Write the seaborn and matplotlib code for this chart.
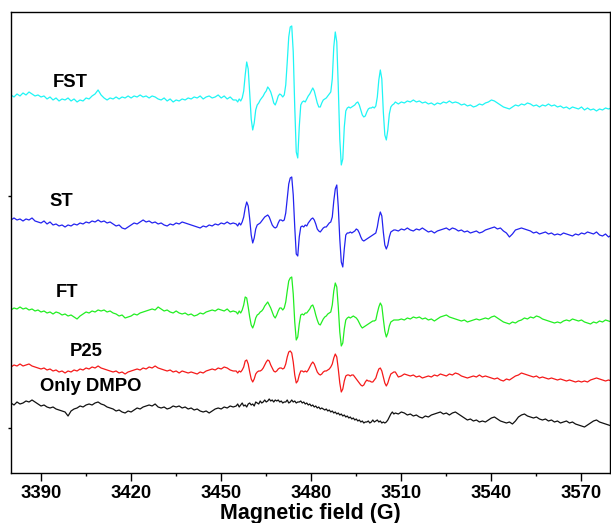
import matplotlib
matplotlib.use("Agg")
import matplotlib.pyplot as plt
import pandas as pd
import seaborn as sns

# Magnetic field sweep (G): 1 G steps away from the quartet, 0.5 G steps across it
field_low = [
    3380, 3381, 3382, 3383, 3384, 3385, 3386, 3387, 3388, 3389,
    3390, 3391, 3392, 3393, 3394, 3395, 3396, 3397, 3398, 3399,
    3400, 3401, 3402, 3403, 3404, 3405, 3406, 3407, 3408, 3409,
    3410, 3411, 3412, 3413, 3414, 3415, 3416, 3417, 3418, 3419,
    3420, 3421, 3422, 3423, 3424, 3425, 3426, 3427, 3428, 3429,
    3430, 3431, 3432, 3433, 3434, 3435, 3436, 3437, 3438, 3439,
    3440, 3441, 3442, 3443, 3444, 3445, 3446, 3447, 3448, 3449,
    3450, 3451, 3452, 3453, 3454,
]
field_mid = [
    3455.0, 3455.5, 3456.0, 3456.5, 3457.0, 3457.5, 3458.0, 3458.5, 3459.0, 3459.5,
    3460.0, 3460.5, 3461.0, 3461.5, 3462.0, 3462.5, 3463.0, 3463.5, 3464.0, 3464.5,
    3465.0, 3465.5, 3466.0, 3466.5, 3467.0, 3467.5, 3468.0, 3468.5, 3469.0, 3469.5,
    3470.0, 3470.5, 3471.0, 3471.5, 3472.0, 3472.5, 3473.0, 3473.5, 3474.0, 3474.5,
    3475.0, 3475.5, 3476.0, 3476.5, 3477.0, 3477.5, 3478.0, 3478.5, 3479.0, 3479.5,
    3480.0, 3480.5, 3481.0, 3481.5, 3482.0, 3482.5, 3483.0, 3483.5, 3484.0, 3484.5,
    3485.0, 3485.5, 3486.0, 3486.5, 3487.0, 3487.5, 3488.0, 3488.5, 3489.0, 3489.5,
    3490.0, 3490.5, 3491.0, 3491.5, 3492.0, 3492.5, 3493.0, 3493.5, 3494.0, 3494.5,
    3495.0, 3495.5, 3496.0, 3496.5, 3497.0, 3497.5, 3498.0, 3498.5, 3499.0, 3499.5,
    3500.0, 3500.5, 3501.0, 3501.5, 3502.0, 3502.5, 3503.0, 3503.5, 3504.0, 3504.5,
    3505.0, 3505.5, 3506.0, 3506.5, 3507.0, 3507.5, 3508.0,
]
field_high = [
    3509, 3510, 3511, 3512, 3513, 3514, 3515, 3516, 3517, 3518,
    3519, 3520, 3521, 3522, 3523, 3524, 3525, 3526, 3527, 3528,
    3529, 3530, 3531, 3532, 3533, 3534, 3535, 3536, 3537, 3538,
    3539, 3540, 3541, 3542, 3543, 3544, 3545, 3546, 3547, 3548,
    3549, 3550, 3551, 3552, 3553, 3554, 3555, 3556, 3557, 3558,
    3559, 3560, 3561, 3562, 3563, 3564, 3565, 3566, 3567, 3568,
    3569, 3570, 3571, 3572, 3573, 3574, 3575, 3576, 3577, 3578,
    3579, 3580,
]

samples = ["FST", "ST", "FT", "P25", "Only DMPO"]

# Stacked EPR signals (a.u., vertical offsets included)
fst_low = [
    362, 360, 363, 361, 364, 362, 365, 363, 361, 362,
    360, 361, 358, 360, 357, 359, 356, 358, 357, 359,
    356, 358, 355, 357, 356, 359, 358, 361, 363, 367,
    362, 359, 357, 359, 358, 360, 358, 360, 359, 361,
    359, 361, 360, 362, 360, 361, 359, 361, 360, 358,
    357, 359, 356, 358, 355, 357, 356, 358, 357, 359,
    358, 360, 359, 361, 358, 360, 361, 359, 360, 362,
    359, 361, 358, 360, 357,
]
fst_mid = [
    357, 355, 358, 356, 359, 366, 382, 395, 388, 364,
    338, 327, 334, 347, 352, 354, 357, 359, 361, 364,
    366, 370, 368, 365, 360, 354, 352, 356, 361, 363,
    362, 360, 362, 372, 395, 420, 430, 431, 405, 350,
    305, 299, 330, 352, 355, 356, 355, 358, 361, 363,
    366, 369, 366, 360, 354, 350, 350, 354, 357, 358,
    359, 361, 363, 365, 378, 410, 425, 415, 370, 318,
    292, 298, 330, 346, 349, 350, 349, 350, 351, 352,
    354, 355, 352, 347, 342, 340, 341, 345, 348, 349,
    349, 350, 349, 351, 360, 377, 387, 378, 345, 322,
    317, 327, 343, 350, 352, 353, 355,
]
fst_high = [
    353, 355, 354, 356, 355, 357, 355, 356, 354, 355,
    353, 354, 352, 354, 353, 355, 354, 356, 354, 355,
    354, 352, 353, 351, 352, 350, 351, 353, 352, 354,
    355, 357, 356, 354, 352, 350, 349, 348, 350, 352,
    351, 353, 352, 354, 353, 351, 352, 350, 352, 351,
    353, 351, 352, 350, 351, 349, 350, 348, 350, 349,
    348, 350, 347, 349, 347, 348, 346, 348, 347, 349,
    348, 349,
]

st_low = [
    237, 239, 237, 238, 236, 238, 237, 239, 236, 235,
    234, 236, 233, 235, 232, 233, 231, 232, 230, 232,
    231, 233, 232, 234, 233, 235, 234, 236, 235, 237,
    235, 236, 234, 235, 233, 231, 232, 229, 228, 230,
    232, 234, 233, 235, 237, 235, 236, 234, 235, 233,
    234, 232, 231, 233, 232, 234, 233, 235, 234, 233,
    232, 231, 230, 229, 231, 230, 232, 231, 233, 232,
    234, 233, 235, 233, 234,
]
st_mid = [
    233, 231, 234, 232, 235, 240, 249, 255, 251, 238,
    222, 214, 219, 228, 232, 233, 234, 236, 238, 240,
    241, 242, 240, 236, 232, 230, 229, 230, 234, 237,
    237, 236, 237, 244, 258, 273, 279, 280, 262, 230,
    203, 201, 220, 230, 231, 230, 232, 231, 234, 236,
    238, 239, 237, 233, 228, 226, 225, 227, 229, 230,
    230, 232, 234, 235, 240, 256, 268, 272, 250, 218,
    195, 190, 208, 222, 224, 224, 225, 224, 225, 226,
    228, 227, 224, 220, 217, 216, 217, 218, 219, 220,
    221, 222, 223, 224, 230, 239, 245, 241, 225, 212,
    208, 212, 220, 225, 226, 227, 227,
]
st_high = [
    226, 228, 227, 229, 227, 226, 228, 227, 229, 227,
    225, 226, 224, 226, 227, 228, 229, 227, 229, 228,
    226, 227, 225, 226, 224, 225, 226, 224, 225, 227,
    228, 229, 230, 228, 229, 226, 224, 220, 223, 227,
    228, 229, 228, 227, 226, 224, 225, 223, 224, 225,
    223, 224, 222, 223, 222, 224, 223, 222, 221, 223,
    222, 224, 223, 225, 224, 223, 225, 222, 221, 223,
    220, 222,
]

ft_low = [
    147, 149, 148, 150, 148, 149, 147, 148, 146, 147,
    145, 146, 144, 145, 143, 145, 144, 142, 143, 141,
    142, 140, 138, 141, 143, 145, 144, 146, 145, 147,
    146, 147, 145, 146, 144, 143, 141, 142, 139, 140,
    141, 143, 142, 144, 145, 146, 147, 148, 147, 150,
    148, 146, 147, 145, 144, 146, 144, 143, 144, 142,
    143, 141, 142, 144, 143, 145, 146, 147, 146, 148,
    147, 146, 148, 145, 146,
]
ft_mid = [
    145, 143, 146, 144, 147, 152, 160, 159, 150, 140,
    132, 129, 133, 139, 142, 143, 145, 146, 148, 151,
    153, 155, 152, 149, 145, 141, 139, 142, 146, 149,
    149, 147, 149, 155, 166, 176, 179, 180, 163, 135,
    117, 120, 133, 142, 143, 142, 144, 144, 146, 148,
    151, 152, 148, 142, 137, 133, 132, 135, 138, 140,
    141, 143, 144, 145, 152, 166, 174, 170, 150, 125,
    111, 114, 128, 137, 139, 140, 139, 140, 141, 140,
    139, 137, 134, 131, 129, 130, 131, 132, 133, 134,
    135, 136, 136, 137, 144, 150, 154, 151, 138, 126,
    120, 124, 131, 135, 136, 137, 137,
]
ft_high = [
    137, 138, 137, 139, 138, 140, 139, 140, 138, 139,
    137, 138, 136, 138, 140, 141, 142, 140, 139, 138,
    137, 136, 137, 135, 136, 137, 138, 137, 138, 139,
    138, 140, 141, 139, 137, 135, 134, 133, 135, 134,
    136, 137, 139, 138, 140, 139, 141, 140, 138, 137,
    136, 135, 134, 135, 134, 136, 137, 136, 138, 137,
    136, 137, 135, 134, 133, 135, 134, 136, 135, 137,
    136, 135,
]

p25_low = [
    90, 92, 91, 93, 91, 92, 93, 91, 90, 89,
    88, 89, 87, 88, 86, 87, 85, 86, 84, 86,
    85, 87, 86, 88, 87, 89, 88, 90, 89, 91,
    89, 88, 87, 86, 85, 86, 84, 85, 83, 85,
    86, 87, 88, 87, 89, 88, 90, 89, 91, 89,
    88, 87, 86, 87, 85, 86, 84, 86, 85, 84,
    85, 84, 83, 85, 84, 86, 87, 88, 87, 89,
    88, 90, 89, 87, 86,
]
p25_mid = [
    86, 84, 86, 85, 87, 90, 96, 97, 93, 85,
    78, 75, 78, 83, 85, 86, 86, 87, 89, 92,
    95, 97, 96, 92, 89, 86, 85, 86, 88, 89,
    89, 88, 89, 93, 100, 105, 106, 104, 95, 82,
    74, 76, 82, 86, 86, 85, 86, 85, 87, 90,
    93, 95, 93, 89, 85, 83, 82, 83, 85, 86,
    86, 87, 88, 90, 93, 99, 103, 100, 88, 74,
    65, 68, 76, 81, 82, 82, 81, 82, 82, 80,
    78, 76, 74, 72, 71, 72, 75, 77, 76, 76,
    75, 75, 77, 79, 84, 88, 89, 86, 80, 74,
    71, 74, 79, 83, 84, 85, 85,
]
p25_high = [
    80, 81, 83, 82, 81, 82, 80, 81, 79, 80,
    81, 80, 82, 81, 83, 82, 81, 83, 82, 84,
    83, 81, 80, 79, 80, 81, 80, 82, 80, 81,
    80, 79, 78, 79, 77, 76, 78, 77, 79, 81,
    82, 84, 83, 82, 81, 80, 81, 79, 80, 79,
    78, 79, 78, 77, 78, 77, 76, 77, 76, 75,
    76, 75, 76, 75, 77, 78, 79, 78, 77, 76,
    77, 76,
]

dmpo_low = [
    54, 52, 55, 53, 54, 56, 55, 57, 55, 53,
    51, 52, 50, 49, 50, 48, 47, 46, 45, 41,
    46, 48, 49, 51, 50, 52, 53, 52, 54, 55,
    53, 52, 50, 49, 48, 46, 47, 45, 44, 46,
    45, 47, 49, 48, 50, 51, 52, 51, 53, 50,
    49, 50, 48, 49, 51, 50, 51, 49, 50, 48,
    49, 47, 48, 46, 45, 46, 44, 46, 48, 49,
    48, 50, 49, 51, 50,
]
dmpo_mid = [
    51, 53, 50, 52, 54, 51, 52, 50, 53, 54,
    52, 53, 51, 55, 54, 53, 56, 54, 55, 57,
    55, 56, 58, 56, 57, 55, 57, 56, 57, 55,
    56, 54, 55, 55, 57, 54, 55, 57, 55, 56,
    54, 55, 55, 56, 54, 55, 53, 54, 52, 53,
    51, 52, 50, 51, 49, 50, 48, 49, 48, 47,
    48, 46, 47, 45, 46, 44, 45, 43, 44, 42,
    43, 41, 42, 40, 41, 39, 40, 38, 39, 37,
    38, 36, 37, 35, 36, 34, 35, 35, 36, 34,
    35, 37, 35, 36, 37, 35, 36, 34, 35, 34,
    35, 37, 40, 43, 45, 43, 44,
]
dmpo_high = [
    43, 45, 44, 42, 43, 41, 42, 40, 39, 41,
    40, 42, 43, 44, 45, 43, 44, 42, 44, 45,
    43, 41, 39, 37, 38, 36, 37, 35, 36, 35,
    37, 39, 40, 38, 36, 35, 34, 35, 33, 36,
    40, 42, 43, 41, 40, 39, 40, 38, 37, 38,
    36, 37, 35, 36, 34, 35, 36, 34, 35, 33,
    32, 31, 30, 32, 34, 36, 37, 35, 34, 33,
    32, 31,
]

field = field_low + field_mid + field_high
signals = [
    fst_low + fst_mid + fst_high,
    st_low + st_mid + st_high,
    ft_low + ft_mid + ft_high,
    p25_low + p25_mid + p25_high,
    dmpo_low + dmpo_mid + dmpo_high,
]

frames = []
for name, sig in zip(samples, signals):
    frames.append(pd.DataFrame({"field": field, "signal": sig, "sample": name}))
df = pd.concat(frames, ignore_index=True)

sns.set_style("ticks")
plt.rcParams["font.family"] = ["Liberation Sans", "DejaVu Sans"]
plt.rcParams["font.weight"] = "bold"
plt.rcParams["text.color"] = "black"
plt.rcParams["axes.labelcolor"] = "black"

palette = {"FST": "#1ff5f5", "ST": "#2323f0", "FT": "#22ee22",
           "P25": "#f51a1a", "Only DMPO": "#111111"}

fig = plt.figure(figsize=(6.11, 5.23), dpi=100)
ax = fig.add_axes([0.018, 0.0956, 0.9804, 0.8815])

sns.lineplot(data=df, x="field", y="signal", hue="sample", palette=palette,
             estimator=None, sort=False, linewidth=0.9, legend=False, ax=ax)

# sample names next to each trace
label_pos = {"FST": (3399.8, 374), "ST": (3396.8, 255), "FT": (3398.8, 164),
             "P25": (3405.0, 105), "Only DMPO": (3406.7, 70)}
for name in samples:
    x, y = label_pos[name]
    ax.text(x, y, name, ha="center", va="center", fontsize=13.3,
            fontweight="bold", color="black")

ax.set_xlim(3380, 3579.5)
ax.set_ylim(-16, 445)
ax.set_xticks([3390, 3420, 3450, 3480, 3510, 3540, 3570])
ax.set_xticks([3405, 3435, 3465, 3495, 3525, 3555], minor=True)
ax.set_yticks([29, 261])
ax.set_yticklabels([])
ax.tick_params(axis="x", which="major", direction="out", length=6, width=1.0,
               pad=2.5, labelsize=13.3, colors="black")
ax.tick_params(axis="x", which="minor", direction="out", length=2.5, width=1.0,
               colors="black")
ax.tick_params(axis="y", which="major", direction="out", length=2.5, width=1.0,
               colors="black")
for lab in ax.get_xticklabels():
    lab.set_fontweight("bold")

ax.set_xlabel("Magnetic field (G)", fontsize=15.5, fontweight="bold",
              labelpad=0.5, color="black")
ax.set_ylabel("")
for side in ["left", "right", "top", "bottom"]:
    ax.spines[side].set_visible(True)
    ax.spines[side].set_linewidth(1.0)
    ax.spines[side].set_color("black")

fig.savefig("out.png", dpi=100)
